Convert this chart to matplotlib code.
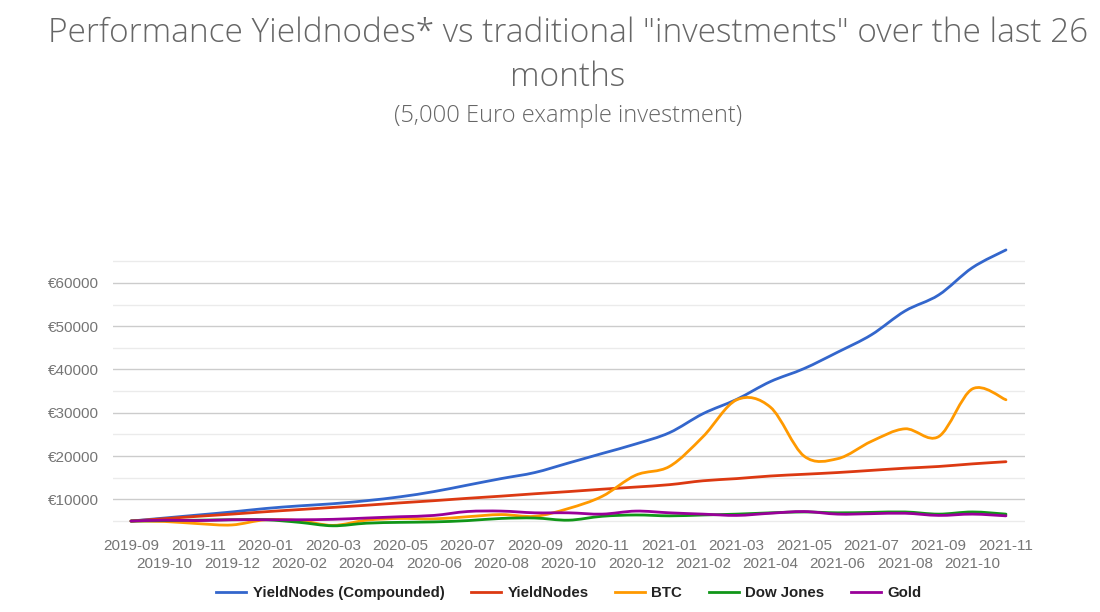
import numpy as np
import matplotlib
matplotlib.use('Agg')
import matplotlib.pyplot as plt
from matplotlib.path import Path
from matplotlib.patches import PathPatch
from matplotlib.lines import Line2D

months = ["2019-09", "2019-10", "2019-11", "2019-12", "2020-01", "2020-02", "2020-03",
          "2020-04", "2020-05", "2020-06", "2020-07", "2020-08", "2020-09", "2020-10",
          "2020-11", "2020-12", "2021-01", "2021-02", "2021-03", "2021-04", "2021-05",
          "2021-06", "2021-07", "2021-08", "2021-09", "2021-10", "2021-11"]

yn_compound = [5000, 5700, 6400, 7100, 7900, 8500, 9000, 9700, 10600, 11800, 13300, 14800,
               16200, 18400, 20600, 22800, 25400, 29800, 33100, 37200, 40200, 44000, 48000,
               53500, 57200, 63500, 67600]
yn_simple = [5000, 5550, 6100, 6600, 7150, 7650, 8150, 8650, 9200, 9700, 10250, 10750, 11300,
             11800, 12350, 12850, 13400, 14300, 14800, 15400, 15800, 16200, 16700, 17200,
             17600, 18200, 18700]
btc = [5000, 4900, 4400, 4100, 5300, 5100, 4000, 5200, 5600, 5500, 6000, 6500, 6100, 7900,
       10700, 15600, 17600, 24500, 33000, 31300, 20000, 19400, 23400, 26300, 24500, 35500, 33000]
dow = [5000, 5100, 5200, 5300, 5300, 4700, 3900, 4500, 4700, 4800, 5100, 5600, 5700, 5200,
       6100, 6400, 6200, 6400, 6600, 6900, 7100, 6900, 7000, 7100, 6600, 7100, 6600]
gold = [5000, 5200, 5100, 5300, 5300, 5300, 5400, 5700, 6000, 6300, 7200, 7300, 6900, 6900,
        6600, 7300, 6900, 6600, 6300, 6800, 7200, 6600, 6700, 6800, 6300, 6600, 6200]

series = [("YieldNodes (Compounded)", yn_compound, "#3366cc"),
          ("YieldNodes", yn_simple, "#dc3912"),
          ("BTC", btc, "#ff9900"),
          ("Dow Jones", dow, "#109618"),
          ("Gold", gold, "#990099")]


def smooth_path(x, y, k=1/6.):
    # catmull-rom style bezier through every point (like google charts curveType: function)
    x = np.asarray(x, float)
    y = np.asarray(y, float)
    verts = [(x[0], y[0])]
    codes = [Path.MOVETO]
    n = len(x)
    for i in range(n - 1):
        p0 = i - 1 if i > 0 else i
        p3 = i + 2 if i + 2 < n else i + 1
        c1 = (x[i] + (x[i + 1] - x[p0]) * k, y[i] + (y[i + 1] - y[p0]) * k)
        c2 = (x[i + 1] - (x[p3] - x[i]) * k, y[i + 1] - (y[p3] - y[i]) * k)
        verts += [c1, c2, (x[i + 1], y[i + 1])]
        codes += [Path.CURVE4] * 3
    return Path(verts, codes)


fig = plt.figure(figsize=(11, 6.12), dpi=100)
ax = fig.add_axes([0.1027, 0.138, 0.8291, 0.4706])

idx = np.arange(len(months))
for name, vals, col in series:
    ax.add_patch(PathPatch(smooth_path(idx, vals), fc="none", ec=col, lw=2, zorder=3,
                           capstyle="round", joinstyle="round"))

ax.set_xlim(-0.535, 26.565)
ax.set_ylim(3500, 70000)

ax.set_yticks(range(10000, 70000, 10000))
ax.set_yticklabels([f"€{v}" for v in range(10000, 70000, 10000)])
ax.set_yticks(range(5000, 70000, 10000), minor=True)
ax.grid(True, which="major", axis="y", color="#cccccc", lw=1)
ax.grid(True, which="minor", axis="y", color="#ebebeb", lw=1)
ax.set_axisbelow(True)

ax.set_xticks(idx[::2])
ax.set_xticklabels(months[::2])
ax.set_xticks(idx[1::2], minor=True)
ax.set_xticklabels(months[1::2], minor=True)
ax.tick_params(axis="x", which="major", length=0, pad=8, labelsize=11, labelcolor="#757575")
ax.tick_params(axis="x", which="minor", length=0, pad=21, labelsize=11, labelcolor="#757575")
ax.tick_params(axis="y", which="both", length=0, pad=10, labelsize=11, labelcolor="#757575")
for lab in ax.get_xticklabels(which="both") + ax.get_yticklabels():
    lab.set_family("Liberation Sans")

for s in ax.spines.values():
    s.set_visible(False)

fig.text(0.516, 0.945, 'Performance Yieldnodes* vs traditional "investments" over the last 26',
         ha="center", va="center", fontsize=24, color="#666666", family="Open Sans",
         weight="light")
fig.text(0.516, 0.874, "months", ha="center", va="center", fontsize=24, color="#666666",
         family="Open Sans", weight="light")
fig.text(0.516, 0.811, "(5,000 Euro example investment)", ha="center", va="center",
         fontsize=17, color="#666666", family="Open Sans", weight="light")

handles = [Line2D([], [], color=c, lw=2) for _, _, c in series]
leg = fig.legend(handles, [n for n, _, _ in series], loc="center", bbox_to_anchor=(0.517, 0.031),
                 ncol=5, frameon=False, handlelength=2.0, columnspacing=1.75, handletextpad=0.45,
                 prop={"family": "Liberation Sans", "weight": "bold", "size": 10.8})
for t in leg.get_texts():
    t.set_color("#222222")

fig.savefig("out.png", dpi=100)
